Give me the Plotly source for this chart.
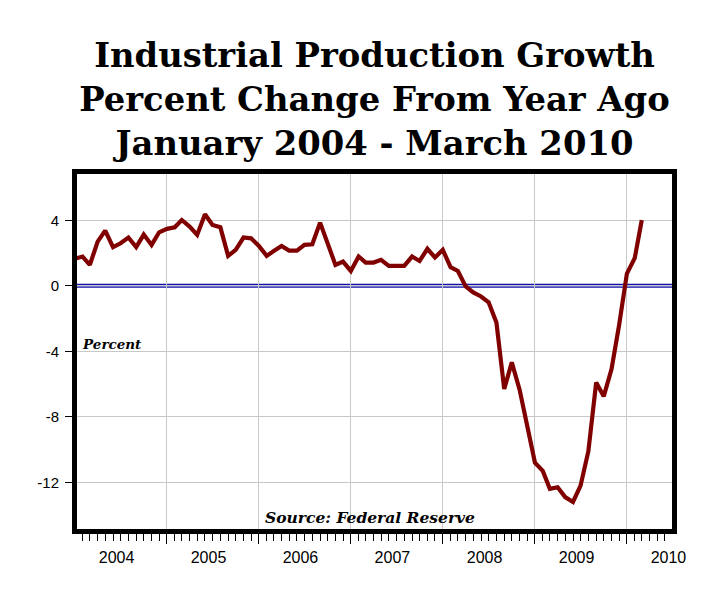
import pandas as pd
import plotly.graph_objects as go

# ---- data ----
start_month = "2004-01-01"
growth_pct = [
    1.65, 1.79, 1.28, 2.70, 3.37, 2.36, 2.60, 2.95, 2.36, 3.13, 2.50, 3.27,   # 2004
    3.48, 3.58, 4.02, 3.62, 3.11, 4.37, 3.72, 3.58, 1.83, 2.20, 2.95, 2.90,   # 2005
    2.44, 1.83, 2.13, 2.44, 2.15, 2.15, 2.50, 2.54, 3.86, 2.60, 1.28, 1.48,   # 2006
    0.91, 1.79, 1.42, 1.42, 1.59, 1.22, 1.22, 1.22, 1.79, 1.52, 2.26, 1.73,   # 2007
    2.20, 1.14, 0.91, -0.04, -0.40, -0.65, -1.00, -2.24, -6.30, -4.67, -6.34, -8.58,  # 2008
    -10.80, -11.30, -12.40, -12.30, -12.90, -13.20, -12.20, -10.10, -5.90, -6.75, -5.08, -2.40,  # 2009
    0.75, 1.69, 4.02,                                                          # 2010
]
months = pd.date_range(start_month, periods=len(growth_pct), freq="MS")

year_labels = ["2004", "2005", "2006", "2007", "2008", "2009", "2010"]
year_label_pos = [f"{y}-06-15" for y in year_labels]
y_tick_vals = [4, 0, -4, -8, -12]
y_tick_text = ["4", "0", "-4", "-8", "-12"]

x_range = ["2004-01-10", "2010-06-29"]
y_range = [-14.85, 6.83]

title_lines = ["Industrial Production Growth", "Percent Change From Year Ago",
               "January 2004 - March 2010"]

fig = go.Figure()

# invisible trace so the label axis (x2) has a subplot
fig.add_trace(go.Scatter(x=months, y=growth_pct, xaxis="x2", mode="lines",
                         line=dict(width=0, color="rgba(0,0,0,0)"),
                         hoverinfo="skip", showlegend=False))

fig.add_trace(go.Scatter(x=months, y=growth_pct, mode="lines",
                         line=dict(color="#800000", width=4.2),
                         showlegend=False))

# zero line (double blue)
fig.add_shape(type="line", xref="paper", x0=0, x1=1, yref="y", y0=0, y1=0,
              line=dict(color="#1010aa", width=4), layer="between")
fig.add_shape(type="line", xref="paper", x0=0, x1=1, yref="y", y0=0, y1=0,
              line=dict(color="#d8d8f4", width=1.3), layer="between")

fig.update_layout(
    width=717, height=592,
    margin=dict(l=69, r=53, t=166, b=71, pad=0),
    paper_bgcolor="white", plot_bgcolor="white",
    title=dict(
        text="<b>" + "<br>".join(title_lines) + "</b>",
        font=dict(family="DejaVu Serif", size=33.8, color="#000000"),
        x=0.5, xref="paper", xanchor="center",
        y=0.9003, yref="container", yanchor="top",
    ),
    xaxis=dict(
        type="date", range=x_range,
        tick0="2004-01-01", dtick="M12",
        showticklabels=False,
        ticks="outside", ticklen=10, tickwidth=1, tickcolor="#000000",
        showgrid=True, gridcolor="#c8c8c8", gridwidth=1,
        minor=dict(dtick="M1", tick0="2004-01-01", ticks="outside", ticklen=7,
                   tickwidth=1, tickcolor="#000000", showgrid=False),
        showline=True, linewidth=5, linecolor="#000000", mirror=True,
        zeroline=False,
    ),
    xaxis2=dict(
        type="date", range=x_range, overlaying="x", anchor="y", side="bottom",
        tickmode="array", tickvals=year_label_pos, ticktext=year_labels,
        ticks="", showgrid=False, showline=False, zeroline=False,
        tickfont=dict(family="Liberation Sans", size=16, color="#000000"),
        ticklabelstandoff=17,
    ),
    yaxis=dict(
        range=y_range,
        tickmode="array", tickvals=y_tick_vals, ticktext=y_tick_text,
        ticks="outside", ticklen=7, tickwidth=1, tickcolor="#000000",
        tickfont=dict(family="Liberation Sans", size=15, color="#000000"),
        ticklabelstandoff=3,
        showgrid=True, gridcolor="#c8c8c8", gridwidth=1,
        showline=True, linewidth=5, linecolor="#000000", mirror=True,
        zeroline=False,
    ),
    annotations=[
        dict(text="<b><i>Percent</i></b>", xref="paper", yref="paper",
             x=0.0046, y=0.521, xanchor="left", yanchor="middle", showarrow=False,
             font=dict(family="DejaVu Serif", size=13.5, color="#000000")),
        dict(text="<b><i>Source: Federal Reserve</i></b>", xref="paper", yref="paper",
             x=0.4924, y=0.031, xanchor="center", yanchor="middle", showarrow=False,
             font=dict(family="DejaVu Serif", size=15.5, color="#000000")),
    ],
)

fig.write_html("out.html")
